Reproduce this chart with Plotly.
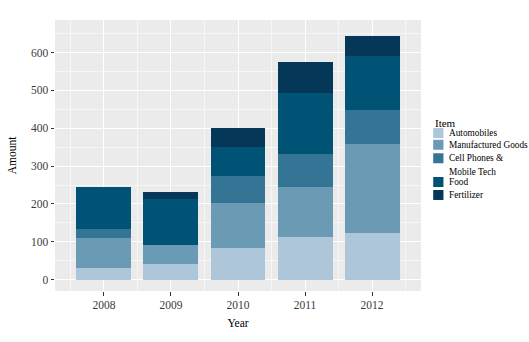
import plotly.graph_objects as go

# Data: amount per item and year
years = [2008, 2009, 2010, 2011, 2012]
items = ["Automobiles", "Manufactured Goods", "Cell Phones &<br>Mobile Tech", "Food", "Fertilizer"]
automobiles = [31, 42, 84, 112, 122]
manufactured_goods = [79, 49, 119, 134, 237]
cell_phones = [23, 0, 71, 87, 90]
food = [111, 122, 76, 159, 142]
fertilizer = [0, 19, 50, 82, 53]
colors = ["#adc6d9", "#6b9ab5", "#347595", "#005375", "#043758"]
y_ticks = [0, 100, 200, 300, 400, 500, 600]

series = [automobiles, manufactured_goods, cell_phones, food, fertilizer]

W, H = 529, 342
L, R, T, B = 46, 108, 20, 50.5
FONT = "Liberation Serif"

fig = go.Figure()
for name, vals, col in zip(items, series, colors):
    fig.add_trace(go.Bar(
        x=years, y=vals, name=name.replace("<br>", " "),
        marker=dict(color=col, line=dict(color="white", width=0)),
        width=0.82, showlegend=False,
    ))

# pixel -> paper helpers for the hand-drawn legend
pw, ph = W - L - R, H - T - B
def px(x):
    return (x - L) / pw
def py(y):
    return 1 - (y - T) / ph

shapes = []
annotations = [dict(
    text="Item", x=px(433), y=py(123), xref="paper", yref="paper",
    xanchor="left", yanchor="middle", showarrow=False,
    font=dict(family=FONT, size=11, color="black"),
)]
key_centers = [133.3, 145, 158.5, 182.3, 195.3]
for name, col, cy in zip(items, colors, key_centers):
    shapes.append(dict(
        type="rect", xref="paper", yref="paper",
        x0=px(433.5), x1=px(444), y0=py(cy + 5), y1=py(cy - 5),
        fillcolor=col, line=dict(width=0),
    ))
    lines = name.split("<br>")
    for i, ln in enumerate(lines):
        annotations.append(dict(
            text=ln, x=px(448), y=py(cy + i * 13.5), xref="paper", yref="paper",
            xanchor="left", yanchor="middle", showarrow=False,
            font=dict(family=FONT, size=9.3, color="black"),
        ))

fig.update_layout(
    width=W, height=H,
    margin=dict(l=L, r=R, t=T, b=B, pad=0),
    barmode="stack",
    paper_bgcolor="white",
    plot_bgcolor="#ebebeb",
    font=dict(family=FONT, size=11, color="#4d4d4d"),
    shapes=shapes,
    annotations=annotations,
    xaxis=dict(
        range=[2007.27, 2012.73],
        tickvals=years, ticktext=[str(y) for y in years],
        ticks="outside", ticklen=3.5, tickwidth=1, tickcolor="#333333",
        showgrid=True, gridcolor="white", gridwidth=1.1,
        minor=dict(tickmode="linear", tick0=2007.5, dtick=1, showgrid=True,
                   gridcolor="#f6f6f6", gridwidth=0.6, ticks=""),
        zeroline=False, showline=False,
        tickfont=dict(family=FONT, size=11.5, color="#3a3a3a"),
        title=dict(text="Year", font=dict(family=FONT, size=11.5, color="black"), standoff=8),
    ),
    yaxis=dict(
        range=[-30, 686],
        tickvals=y_ticks,
        ticks="outside", ticklen=3.5, tickwidth=1, tickcolor="#333333",
        showgrid=True, gridcolor="white", gridwidth=1.1,
        minor=dict(tickmode="linear", tick0=50, dtick=100, showgrid=True,
                   gridcolor="#f6f6f6", gridwidth=0.6, ticks=""),
        zeroline=False, showline=False,
        tickfont=dict(family=FONT, size=11.5, color="#3a3a3a"),
        title=dict(text="Amount", font=dict(family=FONT, size=11.5, color="black"), standoff=11),
    ),
)

fig.write_html("out.html")
